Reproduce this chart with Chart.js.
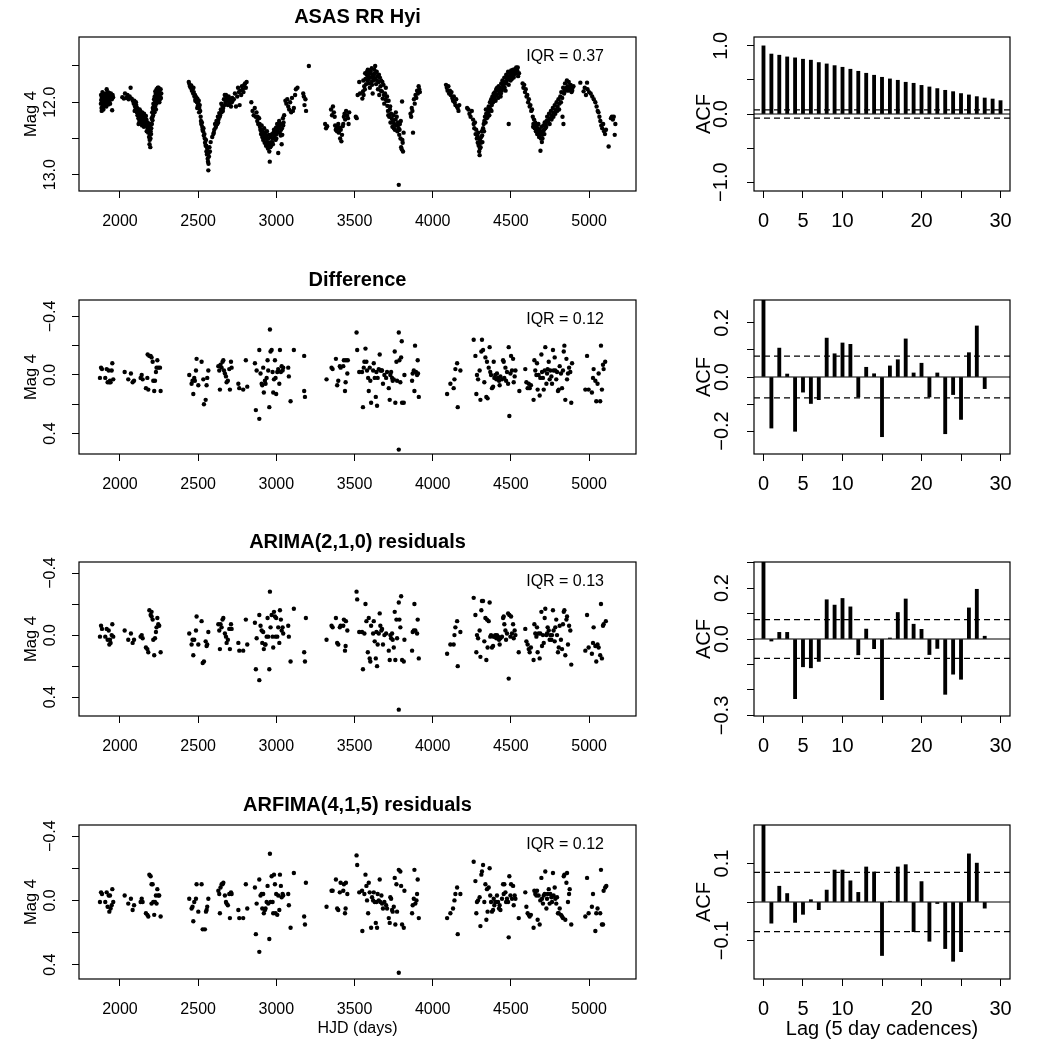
<!DOCTYPE html>
<html>
<head>
<meta charset="utf-8">
<script src="https://cdn.jsdelivr.net/npm/chart.js@4.4.1/dist/chart.umd.min.js"></script>
<style>
  body { margin: 0; background: #fff; width: 1048px; height: 1048px; position: relative; overflow: hidden; }
  canvas { position: absolute; }
</style>
</head>
<body>
<canvas id="series0"></canvas>
<canvas id="series1"></canvas>
<canvas id="series2"></canvas>
<canvas id="series3"></canvas>
<canvas id="acf0"></canvas>
<canvas id="acf1"></canvas>
<canvas id="acf2"></canvas>
<canvas id="acf3"></canvas>
<script>
// ---- data ----
const panelTitles = ['ASAS RR Hyi', 'Difference', 'ARIMA(2,1,0) residuals', 'ARFIMA(4,1,5) residuals'];
const iqrLabels = ['IQR = 0.37', 'IQR = 0.12', 'IQR = 0.13', 'IQR = 0.12'];

const hjdTicks = [2000, 2500, 3000, 3500, 4000, 4500, 5000];
const hjdRange = [1738, 5300];

const magTicks = [
  [11.5, 12.0, 12.5, 13.0],
  [-0.4, -0.2, 0, 0.2, 0.4],
  [-0.4, -0.2, 0, 0.2, 0.4],
  [-0.4, -0.2, 0, 0.2, 0.4]
];
const magTickLabels = [
  ['', '12.0', '', '13.0'],
  ['\u22120.4', '', '0.0', '', '0.4'],
  ['\u22120.4', '', '0.0', '', '0.4'],
  ['\u22120.4', '', '0.0', '', '0.4']
];
const magRanges = [[11.10, 13.225], [-0.512, 0.54], [-0.471, 0.521], [-0.469, 0.489]];

// light curve: [HJD, mag]
const rawMag = [
[1878,12.02],[1880,11.97],[1882,12.08],[1885,11.93],[1887,12.0],[1889,12.05],[1892,11.95],[1894,12.1],[1896,11.9],[1899,11.98],
[1901,12.04],[1904,11.92],[1906,12.01],[1909,11.88],[1911,11.96],[1913,12.06],[1915,11.82],[1918,11.9],[1920,11.99],[1922,11.86],
[1925,11.94],[1927,12.03],[1930,11.91],[1932,11.88],[1935,11.97],[1938,11.9],[1940,11.93],[1943,11.95],[1946,11.91],[1950,12.11],
[1953,11.9],[1956,11.93],
[1879,11.9],[1883,12.12],[1888,11.86],[1891,12.02],[1897,12.06],[1903,11.97],[1908,12.0],[1912,11.93],[1917,11.96],[1923,12.0],
[1928,11.87],[1933,11.94],[1937,12.02],[1942,11.88],[1948,11.96],
[2015,11.93],[2025,11.95],[2032,11.88],[2040,11.94],[2048,11.9],[2055,11.96],[2062,11.92],[2068,11.8],[2075,11.95],[2082,11.98],
[2088,12.02],[2092,11.98],[2096,12.06],[2100,12.1],[2104,12.04],[2108,12.14],[2112,12.18],[2115,12.1],[2118,12.22],[2121,12.15],
[2124,12.26],[2127,12.2],[2130,12.12],[2133,12.28],[2136,12.17],[2139,12.23],[2142,12.14],[2145,12.3],[2148,12.2],[2151,12.25],
[2154,12.16],[2157,12.22],[2160,12.32],[2163,12.27],[2166,12.19],[2169,12.24],[2172,12.3],
[2094,12.12],[2102,12.0],[2110,12.08],[2119,12.3],[2126,12.1],[2134,12.22],[2141,12.32],[2147,12.26],[2153,12.34],[2159,12.2],
[2165,12.3],[2171,12.4],[2183,12.3],[2189,12.58],[2195,12.5],[2199,12.44],
[2175,12.35],[2178,12.28],[2181,12.42],[2184,12.38],[2186,12.48],[2188,12.33],[2190,12.52],[2192,12.45],[2194,12.62],[2196,12.4],
[2198,12.3],[2200,12.36],
[2203,12.22],[2206,12.14],[2208,12.25],[2210,12.08],[2212,12.18],[2214,12.02],[2216,12.12],[2218,11.96],[2220,12.06],[2222,11.92],
[2224,12.0],[2226,11.85],[2228,11.95],[2230,12.1],[2232,11.9],[2234,11.82],[2236,11.98],[2238,11.88],[2240,11.94],[2242,11.8],
[2245,11.86],[2248,11.92],[2250,11.84],[2253,11.9],[2256,11.96],[2260,11.82],[2264,11.88],
[2204,12.3],[2209,12.2],[2213,12.1],[2217,12.04],[2221,12.14],[2225,12.06],[2229,11.88],[2233,12.02],[2237,11.84],[2241,11.9],
[2247,11.8],[2252,12.0],[2258,11.88],[2262,11.94],
[2440,11.72],[2444,11.75],[2448,11.78],[2452,11.8],[2456,11.77],
[2460,11.84],[2464,11.82],[2468,11.88],[2472,11.86],[2476,11.92],[2480,11.9],[2484,11.96],[2488,11.93],[2492,12.0],[2495,11.95],
[2498,12.05],[2501,12.02],[2504,11.98],[2507,12.08],[2510,12.04],[2513,12.12],
[2516,12.2],[2520,12.3],[2524,12.28],[2528,12.38],[2532,12.4],[2536,12.46],[2540,12.44],[2544,12.56],[2548,12.6],[2550,12.52],
[2553,12.68],[2556,12.72],[2558,12.64],[2561,12.78],[2563,12.82],[2565,12.94],[2567,12.7],[2569,12.75],[2572,12.62],
[2580,12.55],[2590,12.48],[2597,12.44],[2603,12.38],[2608,12.3],[2612,12.35],[2617,12.26],[2622,12.3],[2626,12.2],[2630,12.24],
[2635,12.15],[2640,12.18],[2645,12.1],[2650,12.14],[2655,12.05],[2660,12.08],
[2665,11.96],[2670,11.9],[2675,12.0],[2680,11.94],[2685,11.98],[2690,12.04],[2695,11.92],[2700,12.02],[2705,11.96],[2710,12.06],
[2715,12.0],[2720,11.98],
[2470,11.8],[2482,11.98],[2494,12.08],[2506,12.14],[2518,12.26],[2526,12.34],[2534,12.36],[2542,12.5],[2552,12.6],[2560,12.7],
[2566,12.85],[2575,12.68],[2600,12.42],[2615,12.32],[2628,12.28],[2638,12.2],[2648,12.02],[2658,12.12],[2668,12.04],[2678,11.9],
[2688,11.96],[2698,11.98],[2708,12.0],[2718,11.94],
[2728,11.96],[2735,11.88],[2742,12.06],[2750,11.92],[2755,11.8],[2760,11.86],[2765,12.04],[2770,11.84],[2775,11.9],[2780,11.78],
[2785,11.82],[2790,11.86],[2795,11.76],[2800,11.74],[2805,11.8],[2810,11.72],
[2840,12.0],[2848,12.12],[2855,12.18],[2862,12.08],[2868,12.2],[2873,12.14],[2878,12.26],[2884,12.3],[2890,12.22],[2895,12.34],
[2898,12.38],[2902,12.44],[2906,12.32],[2910,12.48],[2913,12.4],[2916,12.52],[2919,12.45],[2922,12.36],[2925,12.56],[2928,12.42],
[2931,12.5],[2934,12.6],[2937,12.46],[2940,12.4],[2943,12.55],[2946,12.64],[2949,12.5],[2952,12.58],[2955,12.68],[2958,12.82],
[2961,12.62],[2964,12.48],
[2968,12.55],[2972,12.44],[2975,12.5],[2978,12.58],[2982,12.42],[2985,12.38],[2988,12.48],[2992,12.4],[2995,12.52],[2998,12.35],
[3002,12.44],[3005,12.3],[3008,12.4],[3012,12.7],[3015,12.34],[3018,12.26],[3022,12.42],[3026,12.3],[3030,12.38],[3034,12.58],
[3038,12.45],[3042,12.22],[3046,12.28],[3050,12.18],
[2880,12.2],[2893,12.3],[2904,12.4],[2915,12.44],[2926,12.48],[2936,12.55],[2944,12.6],[2953,12.45],[2960,12.56],[2966,12.6],
[2974,12.56],[2980,12.5],[2990,12.44],[3000,12.5],[3010,12.36],[3020,12.32],[3028,12.46],[3036,12.36],[3044,12.32],
[3058,11.98],[3064,12.02],[3070,11.96],[3076,12.06],[3082,12.1],[3088,12.0],[3095,12.14],[3100,11.94],[3106,12.12],[3112,12.08],
[3120,11.9],[3125,11.82],[3135,11.8],
[3172,11.88],[3176,11.92],[3180,12.04],[3186,11.96],[3190,12.12],[3208,11.5],
[3312,12.3],[3318,12.36],[3325,12.33],
[3350,12.1],[3356,12.18],[3362,12.06],[3368,12.14],[3373,12.2],
[3376,12.32],[3380,12.38],[3384,12.34],[3388,12.4],[3392,12.36],[3396,12.3],[3400,12.42],[3404,12.35],[3408,12.5],[3412,12.38],
[3416,12.54],[3420,12.45],[3424,12.33],[3428,12.3],
[3432,12.2],[3436,12.16],[3440,12.24],[3446,12.12],[3452,12.18],[3458,12.22],[3462,12.3],[3466,12.14],
[3508,12.2],[3514,12.22],[3520,11.9],[3530,11.72],[3535,11.88],
[3550,11.95],[3554,11.85],[3558,11.9],[3562,11.78],[3566,11.82],[3570,11.68],[3574,11.75],[3578,11.62],[3582,11.7],[3585,11.55],
[3588,11.64],[3592,11.74],[3595,11.6],[3598,11.8],[3601,11.66],[3604,11.58],[3607,11.72],[3610,11.53],[3613,11.62],[3616,11.88],
[3619,11.7],[3622,11.66],
[3626,11.55],[3630,11.6],[3634,11.68],[3638,11.75],[3642,11.58],[3646,11.64],[3650,11.82],[3654,11.72],[3658,11.9],[3662,11.66],
[3666,11.78],[3670,11.7],[3675,11.85],[3680,11.95],[3685,11.76],[3690,12.02],[3695,11.88],[3700,11.8],[3705,11.98],
[3710,12.05],[3714,12.12],[3718,11.98],[3722,12.2],[3726,12.1],[3730,12.28],[3734,12.16],[3738,12.22],[3742,12.34],[3746,12.26],
[3750,12.18],[3754,12.3],[3758,12.38],[3762,12.24],[3766,12.32],[3770,12.2],[3774,12.4],[3778,12.28],[3782,12.36],[3786,12.45],
[3790,12.3],[3794,12.5],[3798,12.62],[3802,12.65],[3806,12.52],[3810,12.68],[3814,12.42],[3804,11.99],[3783,13.14],
[3556,11.7],[3568,11.6],[3580,11.58],[3590,11.68],[3600,11.56],[3612,11.76],[3624,11.62],[3632,11.5],[3644,11.7],[3656,11.62],
[3668,11.84],[3678,11.72],[3688,11.9],[3698,11.96],[3708,11.92],[3716,12.18],[3728,12.06],[3740,12.28],[3752,12.36],[3764,12.14],
[3776,12.32],[3788,12.38],[3796,12.26],[3808,12.56],
[3858,12.16],[3862,12.2],[3866,12.08],[3870,12.12],[3874,12.42],[3880,11.96],[3885,12.02],[3890,11.9],[3895,11.94],[3900,11.84],
[3905,11.88],[3910,11.78],[3914,11.82],[3918,11.86],
[4085,11.76],[4090,11.8],[4095,11.84],[4100,11.78],[4105,11.88],[4110,11.84],[4115,11.9],[4120,11.86],[4125,11.94],[4130,11.98],
[4135,11.92],[4140,12.0],[4145,12.04],[4150,11.96],[4155,12.06],[4160,12.08],[4165,12.12],[4170,12.04],
[4220,12.08],[4228,12.1],[4235,12.16],[4242,12.2],[4250,12.12],[4258,12.24],
[4262,12.3],[4266,12.36],[4270,12.28],[4274,12.44],[4278,12.38],[4282,12.5],[4285,12.46],[4288,12.56],[4291,12.42],[4294,12.6],
[4297,12.68],[4300,12.73],[4303,12.52],[4306,12.62],[4310,12.48],[4314,12.4],[4318,12.55],
[4322,12.36],[4326,12.3],[4330,12.26],[4334,12.2],[4338,12.28],[4342,12.16],[4346,12.22],[4350,12.1],[4354,12.14],[4358,12.06],
[4362,12.18],[4366,12.0],[4370,12.1],[4374,11.96],[4378,12.04],[4382,11.92],[4386,12.0],[4390,11.88],
[4394,11.94],[4398,11.86],[4402,11.98],[4406,11.82],[4410,11.9],[4414,11.84],[4418,11.94],[4422,11.78],[4426,11.88],[4430,11.8],
[4434,11.92],[4438,11.74],[4442,11.84],[4446,11.7],[4450,11.8],[4454,11.76],[4458,11.66],[4462,11.72],[4466,11.84],[4470,11.62],
[4474,11.7],[4478,11.66],[4482,11.58],[4486,11.76],[4490,11.64],[4494,11.6],[4498,11.7],[4502,11.56],[4506,11.68],[4510,11.62],
[4514,11.55],[4518,11.66],[4486,12.3],
[4302,12.64],[4296,12.5],[4308,12.56],[4316,12.46],[4328,12.4],[4340,12.1],[4352,12.2],[4364,12.08],[4376,12.12],[4388,11.96],
[4400,11.9],[4412,11.8],[4424,11.84],[4436,11.88],[4448,11.76],[4460,11.8],[4472,11.74],[4484,11.68],[4496,11.66],[4508,11.6],
[4520,11.62],[4532,11.6],[4544,11.52],
[4522,11.58],[4528,11.54],[4534,11.52],[4540,11.56],[4546,11.64],[4552,11.6],
[4575,11.74],[4580,11.8],[4585,11.76],[4590,11.86],[4595,11.82],[4600,11.92],[4605,11.9],[4610,12.0],[4615,11.96],[4620,12.06],
[4625,12.04],[4630,12.12],[4635,12.1],
[4640,12.2],[4644,12.3],[4648,12.24],[4652,12.36],[4656,12.28],[4660,12.4],[4664,12.32],[4668,12.44],[4672,12.36],[4676,12.3],
[4680,12.48],[4684,12.38],[4688,12.42],[4692,12.5],[4696,12.34],[4700,12.45],[4704,12.4],[4708,12.32],[4712,12.38],[4716,12.28],
[4720,12.36],[4724,12.3],[4728,12.26],[4689,12.67],
[4642,12.34],[4654,12.3],[4666,12.38],[4678,12.42],[4690,12.44],[4702,12.5],[4714,12.44],[4726,12.34],[4698,12.55],
[4732,12.2],[4738,12.26],[4744,12.16],[4750,12.22],[4756,12.12],[4762,12.18],[4768,12.08],[4774,12.14],[4780,12.04],[4786,12.1],
[4792,12.0],[4798,12.06],[4804,11.96],[4810,12.02],[4816,11.92],
[4748,12.3],[4760,12.24],[4772,12.2],[4784,12.16],[4796,12.12],[4808,12.1],[4820,12.0],[4842,11.84],[4856,11.8],[4868,11.84],
[4880,11.78],[4892,11.84],
[4822,11.86],[4828,11.94],[4834,11.8],[4840,11.88],[4846,11.74],[4852,11.84],[4858,11.7],[4864,11.78],[4870,11.72],[4876,11.82],
[4882,11.76],[4888,11.86],[4894,11.8],[4900,11.78],[4830,12.2],[4836,12.3],
[4944,11.73],[4987,11.73],
[4965,11.85],[4972,11.8],[4980,11.9],[4990,11.82],[5000,11.86],[5010,11.88],[5020,11.92],[5030,11.96],[5040,12.0],[5048,12.06],
[5055,12.12],[5060,12.14],[5066,12.2],[5072,12.26],[5078,12.32],[5084,12.36],[5090,12.3],[5096,12.4],[5102,12.44],[5108,12.38],
[5125,12.61],[5140,12.22],[5146,12.2],[5152,12.24],[5158,12.2],[5164,12.45],[5168,12.3]
];

// first differences: [HJD, dmag]
const diffMag = [
[1872,0.02],[1879,-0.05],[1885,-0.04],[1906,0.02],[1915,-0.04],[1921,0.05],[1928,-0.03],[1932,0.05],[1936,0.04],[1940,0.05],
[1947,-0.03],[1951,-0.08],[1957,0.03],
[2030,-0.02],[2053,0.03],[2070,-0.01],[2081,0.05],[2090,0.04],[2132,0.02],[2139,0],[2145,0.03],[2166,0.09],[2175,0.02],[2177,-0.14],
[2181,0.1],[2188,-0.13],[2196,-0.13],[2202,-0.12],[2209,-0.09],[2213,0.04],[2219,0.11],[2224,0.04],[2230,-0.02],[2234,-0.05],
[2239,-0.1],[2245,-0.05],[2256,-0.05],[2260,0.11],
[2443,0],[2458,0.06],[2464,0.04],[2469,0.13],[2475,0.02],[2479,0.04],[2486,-0.03],[2490,-0.11],[2501,0.07],[2522,-0.09],
[2533,0.03],[2537,0.2],[2548,0.17],[2554,0.07],[2558,0.02],[2565,-0.03],
[2629,-0.06],[2635,-0.03],[2639,0.1],[2643,-0.07],[2650,-0.05],[2656,-0.09],[2661,-0.1],[2665,-0.03],[2671,-0.01],[2678,0.01],
[2682,0.05],[2690,0.04],[2699,-0.04],[2703,0.1],[2710,-0.09],[2714,-0.05],
[2757,0.06],[2763,0.09],[2788,0.1],[2805,-0.1],[2814,0.08],
[2863,-0.08],[2869,0.24],[2874,-0.03],[2891,-0.17],[2891,0.3],[2899,-0.01],[2906,0.06],[2910,0.07],[2916,-0.05],[2920,0.12],
[2927,0.04],[2931,0.06],[2938,0.02],[2944,-0.1],[2948,-0.03],[2955,0.22],[2959,-0.31],[2963,-0.16],[2970,-0.17],[2976,-0.02],
[2980,0.12],[2985,0.03],[2991,-0.1],[2995,0.02],[2999,0.13],[3006,-0.02],[3012,-0.04],[3019,0.06],[3023,-0.17],[3029,-0.02],
[3034,-0.06],[3040,-0.03],[3044,-0.05],
[3076,-0.05],[3080,0.01],[3091,0.18],[3112,-0.17],[3178,-0.13],[3178,0.11],[3183,0.15],
[3321,0.03],[3353,-0.05],[3360,-0.04],[3381,-0.11],[3389,0.07],[3396,0.04],[3406,-0.06],[3411,-0.05],[3428,-0.06],[3432,-0.1],
[3439,0.11],[3443,0.05],[3445,-0.1],[3454,-0.01],[3457,-0.1],[3513,-0.29],[3517,-0.17],[3530,-0.02],
[3548,-0.02],[3554,0.22],[3559,-0.05],[3563,-0.09],[3570,-0.18],[3576,-0.09],[3580,-0.03],[3587,0.02],[3591,0.11],[3597,-0.05],
[3601,0.04],[3606,0.19],[3619,-0.03],[3623,-0.08],[3629,0.02],[3636,0.15],[3640,-0.02],[3644,0.21],[3648,0.02],[3655,-0.04],
[3661,-0.14],[3665,-0.03],[3672,-0.03],[3676,-0.03],[3682,0.06],[3691,0],[3702,0.02],[3708,-0.02],[3719,0.09],[3725,0.17],
[3729,0],[3734,-0.02],[3740,0.02],[3744,0.04],[3751,0.03],[3757,-0.16],[3761,0.19],[3768,-0.09],[3772,0.04],[3783,-0.29],
[3783,0.51],[3787,-0.1],[3793,0.05],[3798,-0.12],[3802,-0.23],[3804,0.19],[3815,0.19],[3819,0],
[3868,0.04],[3872,-0.01],[3879,-0.03],[3883,0.11],[3887,-0.2],[3893,-0.02],[3900,0],[3904,-0.1],[3906,-0.01],[3911,0.15],
[4092,0.13],[4113,0.06],[4134,0.09],[4139,0.03],[4145,-0.04],[4156,-0.08],[4160,0.22],[4177,-0.03],
[4262,-0.24],[4273,-0.13],[4279,0.13],[4283,0],[4290,0.03],[4300,-0.03],[4305,0.17],[4311,-0.16],[4315,-0.24],[4322,-0.17],
[4330,0.05],[4337,-0.12],[4343,0.15],[4347,-0.09],[4351,0.16],[4358,-0.05],[4364,-0.19],[4368,-0.02],[4373,0],[4379,0.09],
[4386,0.08],[4390,-0.09],[4394,0.02],[4400,0],[4407,0.03],[4411,-0.01],[4418,0.02],[4424,0.04],[4428,0.07],[4433,0.01],
[4443,0.03],[4450,-0.1],[4454,-0.09],[4458,0.02],[4465,-0.05],[4469,0.04],[4475,-0.02],[4482,0.06],[4486,-0.19],[4490,0.28],
[4497,-0.01],[4501,-0.13],[4507,-0.03],[4514,-0.11],[4518,0.05],[4524,0.01],[4529,-0.03],[4554,0.11],
[4592,-0.04],[4599,0.05],[4607,0.09],[4614,0.06],[4620,0.09],[4628,0.07],[4645,0.17],[4650,-0.1],[4656,-0.03],[4663,0],
[4667,-0.08],[4671,0.1],[4677,0],[4684,0.14],[4688,0.02],[4695,-0.14],[4699,-0.02],[4705,0.02],[4710,0.1],[4716,-0.03],
[4720,-0.19],[4727,0.06],[4731,-0.01],[4735,-0.04],[4742,-0.09],[4748,0.03],[4752,-0.03],[4759,0.01],[4763,0.06],[4769,-0.17],
[4773,-0.03],[4780,-0.12],[4784,-0.03],[4790,0.03],[4795,-0.02],[4801,0.11],[4806,0.1],[4812,-0.06],[4820,-0.01],[4827,0.09],
[4833,-0.03],[4838,-0.16],[4842,-0.2],[4848,0.17],[4855,-0.11],[4859,0.03],[4865,-0.01],[4872,-0.05],[4880,-0.02],[4886,0.19],
[4891,-0.08],
[4976,0.1],[4987,-0.13],[4997,0.1],[5018,0.12],[5025,0.02],[5029,-0.04],[5040,0.04],[5046,0.18],[5054,0.06],[5061,-0.01],
[5071,0.18],[5076,-0.2],[5082,0.1],[5089,-0.07],[5093,-0.04],[5103,-0.09]
];

// ARIMA(2,1,0) residuals: [HJD, residual]
const arimaRes = [
[1872,0.01],[1879,-0.06],[1885,-0.04],[1906,0.01],[1915,-0.04],[1921,0.03],[1928,-0.03],[1932,0.06],[1936,0.03],[1940,0.05],
[1947,0],[1951,-0.07],[1957,0.01],
[2030,-0.03],[2053,0.03],[2070,-0.01],[2081,0.05],[2090,0.03],[2132,0.01],[2139,0],[2145,0.02],[2166,0.08],[2175,0.09],[2181,0.11],
[2188,-0.16],[2196,-0.13],[2202,-0.15],[2202,-0.12],[2209,-0.1],[2213,0.03],[2219,0.13],[2224,0.02],[2230,-0.02],[2234,-0.05],
[2239,-0.11],[2245,-0.07],[2251,-0.06],[2260,0.11],
[2443,-0.01],[2458,0.06],[2464,0.03],[2469,0.13],[2475,0.03],[2486,-0.03],[2490,-0.12],[2501,0.06],[2522,-0.09],[2529,0.18],
[2537,0.17],[2548,0.04],[2554,0.07],[2558,0.06],[2565,-0.02],
[2629,-0.07],[2635,-0.03],[2639,0.09],[2643,-0.07],[2650,-0.05],[2656,-0.1],[2661,-0.11],[2671,-0.01],[2678,0.01],[2682,0.05],
[2690,0.03],[2699,-0.04],[2703,0.09],[2710,-0.07],[2714,-0.04],
[2757,0.05],[2763,0.1],[2788,0.1],[2805,-0.1],[2814,0.06],
[2863,-0.08],[2869,0.22],[2874,0.02],[2891,-0.13],[2891,0.29],[2899,-0.06],[2906,-0.03],[2910,0.05],[2916,-0.02],[2920,0.09],
[2927,0.06],[2931,0.06],[2938,0.01],[2944,-0.11],[2948,0.01],[2955,0.22],[2959,-0.28],[2963,-0.05],[2970,-0.13],[2976,0.01],
[2980,0.08],[2985,-0.15],[2991,-0.12],[2995,0.01],[2999,-0.11],[3006,0.01],[3012,-0.05],[3019,0.05],[3023,-0.16],[3029,-0.1],
[3034,-0.03],[3040,-0.05],[3044,-0.01],
[3076,-0.06],[3080,0.01],[3091,0.17],[3112,-0.17],[3189,-0.11],[3178,0.11],[3183,0.17],
[3321,0.03],[3353,-0.06],[3360,-0.05],[3381,-0.11],[3389,0.05],[3396,0.06],[3406,-0.05],[3411,-0.06],[3428,-0.06],[3432,-0.1],
[3439,0.1],[3443,0.07],[3445,-0.09],[3454,-0.03],[3513,-0.28],[3517,-0.23],[3530,-0.02],
[3548,-0.02],[3554,0.22],[3563,-0.01],[3570,-0.2],[3576,-0.09],[3585,0.11],[3591,-0.11],[3597,0.15],[3601,0.17],[3606,-0.06],
[3619,-0.01],[3623,-0.09],[3629,0.04],[3636,0.15],[3640,-0.02],[3644,0.2],[3648,0.06],[3655,-0.01],[3661,-0.14],[3665,-0.06],
[3672,-0.03],[3676,-0.04],[3682,0.06],[3691,0],[3702,-0.01],[3719,0.1],[3725,0.16],[3729,0],[3734,0.02],[3740,-0.01],
[3744,0.03],[3751,0.08],[3757,-0.15],[3761,0.16],[3768,-0.1],[3772,0.02],[3783,-0.21],[3783,0.48],[3787,-0.1],[3793,-0.05],
[3798,-0.25],[3804,0.16],[3815,0.17],[3819,0.03],
[3868,0.1],[3872,-0.02],[3879,-0.03],[3883,-0.2],[3889,-0.03],[3900,-0.01],[3904,-0.1],[3911,0.15],
[4092,0.12],[4113,0.06],[4134,0.06],[4139,0],[4145,-0.05],[4156,-0.09],[4160,0.2],[4177,-0.02],
[4262,-0.24],[4273,-0.13],[4279,0.11],[4283,0],[4290,0.02],[4300,-0.03],[4305,0.14],[4311,-0.16],[4315,-0.22],[4322,-0.22],
[4330,0.04],[4337,-0.11],[4343,0.16],[4347,-0.1],[4351,0.08],[4358,-0.09],[4364,-0.21],[4368,0.01],[4373,0],[4379,0.08],
[4386,0.07],[4390,0.01],[4394,0.01],[4400,0],[4407,0.02],[4411,0],[4418,0.01],[4424,0.03],[4428,0.06],[4433,0.02],
[4443,0.01],[4450,-0.11],[4454,-0.12],[4458,-0.07],[4465,-0.03],[4469,0.03],[4475,-0.01],[4482,-0.14],[4486,0.28],[4490,-0.13],
[4497,0.01],[4501,-0.12],[4507,-0.01],[4514,-0.07],[4518,0.02],[4524,-0.03],[4529,0],[4550,0.11],
[4592,-0.04],[4599,0.04],[4607,0.06],[4614,0.09],[4620,0.11],[4628,0.08],[4645,0.16],[4650,-0.07],[4656,-0.01],[4663,0.01],
[4667,-0.05],[4671,0.11],[4677,-0.01],[4684,0.15],[4688,-0.01],[4695,-0.15],[4699,0.07],[4705,0],[4710,0.05],[4716,-0.11],
[4720,-0.17],[4727,0],[4731,-0.01],[4735,-0.05],[4742,-0.03],[4748,0.03],[4752,0],[4759,0.03],[4763,0],[4769,-0.16],
[4773,-0.03],[4780,0.04],[4784,-0.05],[4790,-0.1],[4795,0],[4801,0.11],[4806,0.08],[4812,-0.06],[4820,0.03],[4827,0.09],
[4833,-0.07],[4838,-0.15],[4842,-0.16],[4848,0.13],[4855,-0.1],[4859,-0.12],[4865,0.06],[4872,-0.06],[4880,-0.03],[4886,0.19],
[4976,0.1],[4987,-0.13],[4997,0.08],[5018,0.12],[5025,0.05],[5029,-0.05],[5040,0.07],[5046,0.17],[5054,0.06],[5061,0.08],
[5071,0.13],[5076,-0.2],[5082,0.15],[5089,-0.06],[5093,-0.07],[5107,-0.09]
];

// ARFIMA(4,1,5) residuals: [HJD, residual]
const arfimaRes = [
[1872,0.01],[1879,-0.05],[1885,-0.04],[1906,0.01],[1915,-0.05],[1921,0.04],[1928,-0.03],[1932,0.07],[1936,-0.03],[1940,0.05],
[1947,0.03],[1951,-0.07],[1957,0.01],
[2030,-0.03],[2053,0.02],[2070,-0.01],[2081,0.06],[2090,0.03],[2132,0.01],[2139,-0.01],[2145,0.01],[2166,0.08],[2175,0.09],
[2181,0.1],[2188,-0.16],[2196,-0.15],[2202,-0.1],[2202,0.02],[2209,-0.1],[2213,0.01],[2219,0.09],[2224,0.01],[2230,-0.03],
[2234,0.02],[2239,-0.07],[2245,-0.03],[2251,-0.03],[2260,0.1],
[2443,-0.01],[2458,0.05],[2464,0.04],[2469,0.13],[2475,0.01],[2486,-0.01],[2490,-0.1],[2501,0.07],[2522,-0.1],[2529,0.18],
[2543,0.18],[2550,0.07],[2554,0.06],[2558,0.04],[2565,-0.01],
[2629,-0.06],[2635,-0.04],[2639,0.08],[2643,-0.08],[2650,-0.1],[2656,-0.1],[2661,-0.11],[2671,-0.03],[2678,0.01],[2682,0.02],
[2690,0.03],[2699,-0.04],[2703,0.11],[2710,-0.05],[2714,-0.04],
[2757,0.06],[2763,0.11],[2788,0.11],[2805,-0.1],[2814,0.05],
[2863,-0.08],[2869,0.21],[2874,0.02],[2891,-0.13],[2891,0.32],[2899,-0.03],[2906,-0.04],[2910,0.05],[2916,-0.04],[2920,0.08],
[2927,0.06],[2931,0.05],[2938,0.01],[2944,-0.09],[2948,0.02],[2955,0.24],[2959,-0.29],[2963,0.01],[2970,-0.15],[2976,0.01],
[2980,0.08],[2985,-0.16],[2991,-0.1],[2995,0.08],[2999,-0.04],[3006,0.09],[3012,-0.03],[3019,0.06],[3023,-0.16],[3029,-0.09],
[3034,-0.02],[3040,-0.04],[3044,-0.03],
[3076,-0.04],[3080,0.03],[3091,0.17],[3112,-0.17],[3189,-0.11],[3178,0.1],[3183,0.15],
[3321,0.04],[3353,-0.06],[3360,-0.06],[3381,-0.13],[3389,0.05],[3396,0.06],[3406,-0.05],[3411,-0.11],[3428,-0.06],[3432,-0.1],
[3439,0.08],[3443,0.05],[3445,-0.11],[3454,-0.04],[3513,-0.28],[3517,-0.22],[3530,-0.05],
[3548,-0.06],[3550,0.19],[3563,-0.04],[3570,-0.16],[3576,-0.09],[3580,0],[3587,0.08],[3591,-0.11],[3597,-0.05],[3606,0.17],
[3612,-0.02],[3619,0],[3623,-0.05],[3629,0.01],[3636,0.14],[3640,0.01],[3644,0.17],[3648,-0.04],[3655,0],[3661,-0.13],
[3665,0.01],[3672,-0.03],[3676,0.02],[3682,0.05],[3691,0.01],[3702,0.03],[3708,0.05],[3719,0.11],[3725,0.14],[3729,-0.02],
[3734,-0.01],[3740,0.06],[3744,0.07],[3751,0.04],[3757,-0.14],[3761,0.15],[3768,-0.1],[3772,0.07],[3783,-0.19],[3783,0.45],
[3793,-0.18],[3798,-0.09],[3804,0.15],[3815,0.17],[3819,-0.06],
[3868,0.08],[3872,0.03],[3879,-0.01],[3883,-0.19],[3889,0.02],[3896,0],[3900,-0.04],[3904,-0.13],[3911,0.11],
[4092,0.11],[4113,0.08],[4130,0.05],[4139,0],[4145,-0.04],[4156,-0.08],[4160,0.21],[4177,-0.04],
[4262,-0.24],[4273,-0.12],[4279,0.08],[4283,0.01],[4290,0],[4300,-0.02],[4305,0.16],[4311,-0.16],[4315,-0.18],[4322,-0.22],
[4330,0.01],[4337,-0.1],[4343,0.12],[4347,-0.07],[4351,0.07],[4358,-0.08],[4364,-0.2],[4368,-0.03],[4373,0.01],[4379,0.07],
[4386,0.06],[4390,-0.01],[4394,0.03],[4400,0.01],[4407,0.01],[4411,-0.03],[4418,0.01],[4424,0.05],[4428,0.03],[4433,0.06],
[4443,-0.01],[4450,-0.1],[4454,-0.04],[4458,-0.1],[4465,-0.05],[4469,0.01],[4475,-0.01],[4482,0.01],[4486,0.23],[4490,-0.15],
[4497,-0.03],[4501,-0.1],[4507,-0.01],[4514,-0.09],[4518,0.03],[4524,-0.03],[4529,-0.01],[4550,0.11],
[4592,-0.05],[4599,0.04],[4607,0.08],[4614,0.09],[4620,0.1],[4628,0.09],[4645,0.17],[4650,-0.06],[4656,-0.04],[4663,-0.03],
[4667,-0.06],[4671,0.12],[4677,-0.03],[4684,0.15],[4688,0],[4695,-0.14],[4699,-0.01],[4705,0.02],[4710,-0.03],[4716,-0.04],
[4720,-0.18],[4727,0.05],[4731,-0.01],[4735,-0.04],[4742,-0.07],[4748,0.02],[4752,-0.04],[4759,-0.02],[4763,0.01],[4769,-0.17],
[4773,-0.03],[4780,-0.08],[4784,-0.01],[4790,0.02],[4795,-0.02],[4801,0.08],[4806,0.08],[4812,0.05],[4820,0.09],[4827,0.1],
[4833,0.11],[4838,-0.15],[4842,-0.16],[4848,0.12],[4855,-0.11],[4859,-0.17],[4865,0.01],[4872,-0.04],[4876,-0.07],[4886,0.15],
[4976,0.1],[4987,-0.14],[4997,0.08],[5018,0.04],[5025,-0.04],[5040,0.19],[5046,0.08],[5054,0.05],[5071,0.08],[5076,-0.19],
[5082,0.15],[5089,0.15],[5093,-0.06],[5103,-0.08],[5110,-0.09]
];

// autocorrelation functions, lag 0..n
const acfRaw = [1.0,0.88,0.863,0.838,0.824,0.804,0.79,0.755,0.735,0.71,0.686,0.657,0.627,0.598,0.569,0.539,
  0.515,0.495,0.466,0.451,0.42,0.397,0.373,0.348,0.328,0.3,0.28,0.255,0.235,0.22,0.196];
const acfDiff = [1.0,-0.189,0.107,0.011,-0.201,-0.056,-0.098,-0.084,0.144,0.086,0.126,0.121,-0.074,0.036,0.012,
  -0.221,0.041,0.064,0.141,0.015,0.051,-0.074,0.015,-0.21,-0.065,-0.157,0.09,0.189,-0.043];
const acfArima = [1.0,-0.008,0.026,0.026,-0.234,-0.109,-0.113,-0.088,0.154,0.133,0.159,0.126,-0.062,0.039,-0.038,
  -0.238,0.004,0.104,0.157,0.058,0.038,-0.061,-0.037,-0.217,-0.138,-0.158,0.122,0.195,0.011];
const acfArfima = [1.0,-0.055,0.041,0.022,-0.053,-0.032,0.006,-0.02,0.031,0.083,0.083,0.055,0.025,0.091,0.078,
  -0.139,0.002,0.091,0.097,-0.077,0.053,-0.102,-0.004,-0.121,-0.154,-0.129,0.125,0.101,-0.016];
const acfCI = [0.06, 0.077, 0.076, 0.077];

const lagTicks = [0, 5, 10, 15, 20, 25, 30];
const lagTickLabels = ['0', '5', '10', '', '20', '', '30'];
const lagRange = [-1.2, 31.2];
const acfTicks = [
  [-1, -0.5, 0, 0.5, 1],
  [-0.2, -0.1, 0, 0.1, 0.2],
  [-0.3, -0.2, -0.1, 0, 0.1, 0.2, 0.3],
  [-0.1, 0, 0.1]
];
const acfTickLabels = [
  ['\u22121.0', '', '0.0', '', '1.0'],
  ['\u22120.2', '', '0.0', '', '0.2'],
  ['\u22120.3', '', '', '0.0', '', '0.2', ''],
  ['\u22120.1', '', '0.1']
];
const acfRanges = [[-1.13, 1.13], [-0.285, 0.285], [-0.302, 0.302], [-0.2, 0.2]];

// ---- layout ----
const FONT = '"Liberation Sans", Arial, Helvetica, sans-serif';
Chart.defaults.font.family = FONT;
Chart.defaults.color = '#000';
const TICK_LEN = 7;
const boxTops = [37, 300, 562, 825];
const BOX_H = 154;

const measureCtx = document.createElement('canvas').getContext('2d');
function labelPad(labels, size, dist) {
  measureCtx.font = size + 'px ' + FONT;
  const widest = Math.max(...labels.map(t => measureCtx.measureText(t).width));
  return dist - TICK_LEN - widest / 2;
}

const framePlugin = {
  id: 'frame',
  afterDraw(chart) {
    const { ctx, chartArea: a } = chart;
    ctx.save();
    ctx.strokeStyle = '#000';
    ctx.lineWidth = 1.2;
    ctx.strokeRect(a.left, a.top, a.right - a.left, a.bottom - a.top);
    ctx.restore();
  }
};

const iqrPlugin = {
  id: 'iqr',
  afterDraw(chart, args, opts) {
    if (!opts.text) return;
    const { ctx, chartArea: a } = chart;
    ctx.save();
    ctx.font = '16px ' + FONT;
    ctx.fillStyle = '#000';
    ctx.textAlign = 'right';
    ctx.textBaseline = 'middle';
    ctx.fillText(opts.text, a.right - 32, a.top + 19.5);
    ctx.restore();
  }
};

const acfLinesPlugin = {
  id: 'acfLines',
  beforeDatasetsDraw(chart, args, opts) {
    const { ctx, chartArea: a, scales: { y } } = chart;
    ctx.save();
    ctx.strokeStyle = '#000';
    ctx.lineWidth = 1.2;
    const y0 = y.getPixelForValue(0);
    ctx.beginPath(); ctx.moveTo(a.left, y0); ctx.lineTo(a.right, y0); ctx.stroke();
    ctx.setLineDash([6, 4]);
    [opts.ci, -opts.ci].forEach(v => {
      const py = y.getPixelForValue(v);
      ctx.beginPath(); ctx.moveTo(a.left, py); ctx.lineTo(a.right, py); ctx.stroke();
    });
    ctx.restore();
  }
};

function placeCanvas(id, left, top, w, h) {
  const c = document.getElementById(id);
  c.width = w; c.height = h;
  c.style.left = left + 'px';
  c.style.top = top + 'px';
  c.style.width = w + 'px';
  c.style.height = h + 'px';
  return c;
}

const axisGrid = { display: true, drawOnChartArea: false, drawTicks: true, tickLength: TICK_LEN, color: '#000', lineWidth: 1 };

// ---- left column: time series ----
const seriesData = [rawMag, diffMag, arimaRes, arfimaRes];
seriesData.forEach((pts, i) => {
  const xh = 60;
  const canvas = placeCanvas('series' + i, 0, boxTops[i] - 37, 715, 37 + BOX_H + xh);
  const last = i === seriesData.length - 1;
  new Chart(canvas, {
    type: 'scatter',
    data: {
      datasets: [{
        data: pts.map(p => ({ x: p[0], y: p[1] })),
        pointRadius: 2.2,
        pointBorderWidth: 0,
        backgroundColor: '#000'
      }]
    },
    options: {
      responsive: false,
      animation: false,
      events: [],
      layout: { padding: { top: 0, right: 79, bottom: 0, left: 0 } },
      plugins: {
        legend: { display: false },
        tooltip: { enabled: false },
        title: {
          display: true, text: panelTitles[i], fullSize: false,
          font: { size: 20, weight: 'bold' }, padding: { top: 5, bottom: 8 }
        },
        iqr: { text: iqrLabels[i] }
      },
      scales: {
        x: {
          type: 'linear', min: hjdRange[0], max: hjdRange[1],
          afterBuildTicks: s => { s.ticks = hjdTicks.map(v => ({ value: v })); },
          afterFit: s => { s.height = xh; },
          ticks: { autoSkip: false, maxRotation: 0, font: { size: 16 }, padding: 14, callback: v => String(v) },
          grid: axisGrid,
          border: { display: false },
          title: { display: last, text: 'HJD (days)', font: { size: 16 }, padding: { top: 0, bottom: 0.5 } }
        },
        y: {
          type: 'linear', reverse: true, min: magRanges[i][0], max: magRanges[i][1],
          afterBuildTicks: s => { s.ticks = magTicks[i].map(v => ({ value: v })); },
          afterFit: s => { s.width = 79; },
          ticks: {
            autoSkip: false, minRotation: 90, maxRotation: 90, crossAlign: 'center',
            font: { size: 16 }, padding: labelPad(magTickLabels[i], 16, 28.5),
            callback: (v, idx) => magTickLabels[i][idx]
          },
          grid: axisGrid,
          border: { display: false },
          title: { display: true, text: 'Mag 4', font: { size: 16.5 }, padding: { top: 21.2, bottom: 0 } }
        }
      }
    },
    plugins: [framePlugin, iqrPlugin]
  });
});

// ---- right column: ACF ----
const acfData = [acfRaw, acfDiff, acfArima, acfArfima];
acfData.forEach((vals, i) => {
  const xh = 62;
  const canvas = placeCanvas('acf' + i, 660, boxTops[i] - 37, 388, 37 + BOX_H + xh);
  const last = i === acfData.length - 1;
  new Chart(canvas, {
    type: 'bar',
    data: {
      datasets: [{
        data: vals.map((v, lag) => ({ x: lag, y: v })),
        backgroundColor: '#000',
        borderWidth: 0,
        barThickness: 3.2
      }]
    },
    options: {
      responsive: false,
      animation: false,
      events: [],
      layout: { padding: { top: 37, right: 38, bottom: 0, left: 0 } },
      plugins: {
        legend: { display: false },
        tooltip: { enabled: false },
        acfLines: { ci: acfCI[i] }
      },
      scales: {
        x: {
          type: 'linear', min: lagRange[0], max: lagRange[1], offset: false,
          afterBuildTicks: s => { s.ticks = lagTicks.map(v => ({ value: v })); },
          afterFit: s => { s.height = xh; },
          ticks: { autoSkip: false, maxRotation: 0, font: { size: 20 }, padding: 11,
            callback: (v, idx) => lagTickLabels[idx] },
          grid: Object.assign({}, axisGrid, { offset: false }),
          border: { display: false },
          title: { display: last, text: 'Lag (5 day cadences)', font: { size: 20 }, padding: { top: 0, bottom: 0 } }
        },
        y: {
          type: 'linear', min: acfRanges[i][0], max: acfRanges[i][1],
          afterBuildTicks: s => { s.ticks = acfTicks[i].map(v => ({ value: v })); },
          afterFit: s => { s.width = 94; },
          ticks: {
            autoSkip: false, minRotation: 90, maxRotation: 90, crossAlign: 'center',
            font: { size: 20 }, padding: labelPad(acfTickLabels[i], 20, i === 0 ? 32.5 : 31.5),
            callback: (v, idx) => acfTickLabels[i][idx]
          },
          grid: axisGrid,
          border: { display: false },
          title: { display: true, text: 'ACF', font: { size: 20 }, padding: { top: 32.3, bottom: 0 } }
        }
      }
    },
    plugins: [acfLinesPlugin, framePlugin]
  });
});
</script>
</body>
</html>
